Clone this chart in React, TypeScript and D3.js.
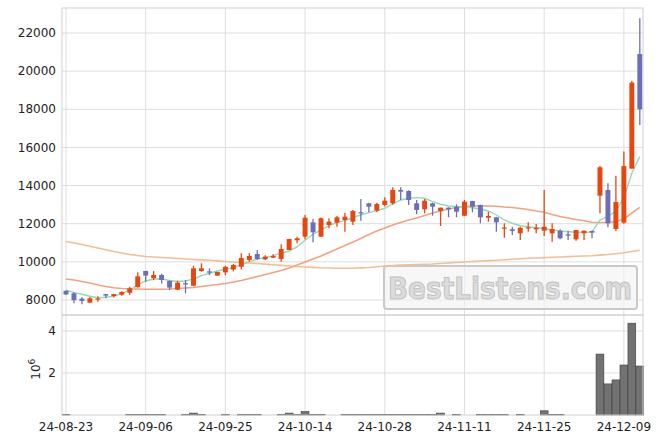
import React from "react";
import * as d3 from "d3";

const dates = [
  "24-08-23","24-08-26","24-08-27","24-08-28","24-08-29","24-08-30","24-09-02","24-09-03","24-09-04","24-09-05",
  "24-09-06","24-09-09","24-09-10","24-09-11","24-09-12","24-09-13","24-09-19","24-09-20","24-09-23","24-09-24",
  "24-09-25","24-09-26","24-09-27","24-09-30","24-10-02","24-10-04","24-10-07","24-10-08","24-10-10","24-10-11",
  "24-10-14","24-10-15","24-10-16","24-10-17","24-10-18","24-10-21","24-10-22","24-10-23","24-10-24","24-10-25",
  "24-10-28","24-10-29","24-10-30","24-10-31","24-11-01","24-11-04","24-11-05","24-11-06","24-11-07","24-11-08",
  "24-11-11","24-11-12","24-11-13","24-11-14","24-11-15","24-11-18","24-11-19","24-11-20","24-11-21","24-11-22",
  "24-11-25","24-11-26","24-11-27","24-11-28","24-11-29","24-12-02","24-12-03","24-12-04","24-12-05","24-12-06",
  "24-12-09","24-12-10","24-12-11",
];

const opens = [
  8480, 8350, 8070, 7860, 8040, 8310, 8210, 8280, 8380, 8670,
  9520, 9140, 9310, 9000, 8540, 8880, 8750, 9520, 9500, 9280,
  9450, 9600, 9746, 10100, 10412, 10133, 10220, 10150, 10622, 11130,
  11320, 12072, 11320, 11933, 12055, 12195, 12107, 12600, 13069, 12684,
  12983, 13069, 13768, 13715, 13069, 12754, 13069, 12667, 12842, 12893,
  12420, 13190, 12983, 12316, 12336, 11760, 11706, 11497, 11760, 11706,
  11635, 11497, 11635, 11440, 11183, 11497, 11618, 13469, 13768, 11723,
  12055, 14889, 20899,
];
const highs = [
  8500, 8400, 8140, 8160, 8190, 8320, 8320, 8460, 8700, 9450,
  9530, 9520, 9380, 9020, 9010, 9050, 9800, 9920, 9660, 9480,
  9790, 9880, 10450, 10450, 10622, 10350, 10400, 10920, 11200, 11320,
  12457, 12250, 12330, 12280, 12405, 12580, 12720, 13296, 13100, 13104,
  13384, 13907, 13907, 13750, 13244, 13296, 13100, 12842, 12860, 13019,
  13244, 13200, 13000, 12630, 12360, 12020, 11844, 11844, 12072, 11985,
  13768, 12022, 11706, 11635, 11670, 11650, 11650, 15020, 14117, 14520,
  15780, 19480, 22770,
];
const lows = [
  8270, 7830, 7780, 7850, 7910, 8090, 8130, 8220, 8260, 8650,
  8960, 9030, 8860, 8520, 8520, 8350, 8720, 9480, 9310, 9270,
  9300, 9500, 9600, 10000, 10100, 10100, 10200, 10000, 10620, 10970,
  11183, 11025, 11300, 11760, 11843, 11580, 11933, 12160, 12595, 12597,
  12900, 13000, 13244, 12983, 12494, 12546, 12420, 11880, 12336, 12336,
  12400, 12597, 12022, 12106, 11580, 11266, 11409, 11146, 11580, 11497,
  11356, 11057, 11183, 11146, 11100, 11146, 11234, 12545, 11810, 11618,
  12000, 14889, 17176,
];
const closes = [
  8290, 7990, 7950, 8090, 8080, 8230, 8310, 8420, 8610, 9240,
  9280, 9310, 9050, 8650, 8910, 8830, 9660, 9660, 9480, 9470,
  9740, 9835, 10200, 10307, 10150, 10272, 10307, 10674, 11199, 11235,
  12316, 11548, 12284, 12107, 12336, 12370, 12667, 12580, 12893, 13034,
  13209, 13768, 13680, 13244, 12719, 13209, 12893, 12842, 12754, 12632,
  13157, 12893, 12336, 12405, 12072, 11800, 11620, 11790, 11810, 11790,
  11843, 11723, 11234, 11372, 11670, 11635, 11531, 14959, 12020, 13139,
  15020, 19396, 17998,
];
const volumes = [
  30000, 0, 0, 0, 0, 0, 0, 0, 30000, 30000,
  30000, 30000, 30000, 0, 0, 30000, 90000, 30000, 0, 0,
  30000, 0, 30000, 30000, 30000, 0, 0, 30000, 90000, 30000,
  160000, 30000, 30000, 0, 0, 30000, 30000, 30000, 30000, 30000,
  30000, 30000, 30000, 30000, 30000, 30000, 30000, 90000, 0, 30000,
  0, 0, 30000, 30000, 30000, 30000, 0, 30000, 0, 0,
  200000, 30000, 30000, 0, 0, 0, 0, 2900000, 1480000, 1670000,
  2380000, 4370000, 2330000,
];
const ma5 = [
  8524, 8383, 8299, 8194, 8121, 8142, 8194, 8330, 8524, 8787,
  8996, 9101, 9101, 9023, 8970, 8996, 9101, 9274, 9400, 9521,
  9610, 9694, 9835, 10008, 10150, 10218, 10323, 10449, 10570, 10779,
  11146, 11445, 11671, 11896, 12075, 12159, 12337, 12457, 12578, 12683,
  12809, 13034, 13244, 13333, 13365, 13333, 13155, 13019, 12929, 12893,
  12893, 12840, 12772, 12667, 12457, 12195, 12022, 11896, 11844, 11791,
  11749, 11671, 11618, 11582, 11550, 11550, 11566, 12195, 12379, 12667,
  13349, 14644, 15515,
];
const ma20 = [
  9101, 9049, 8970, 8891, 8787, 8708, 8645, 8603, 8577, 8577,
  8566, 8561, 8561, 8577, 8603, 8629, 8656, 8708, 8760, 8813,
  8865, 8944, 9023, 9127, 9232, 9337, 9442, 9547, 9678, 9835,
  9993, 10150, 10307, 10491, 10674, 10858, 11042, 11225, 11435, 11618,
  11776, 11933, 12064, 12195, 12300, 12431, 12562, 12667, 12772, 12851,
  12903, 12929, 12940, 12929, 12914, 12877, 12851, 12798, 12746, 12667,
  12599, 12484, 12379, 12300, 12221, 12153, 12075, 12064, 12064, 12117,
  12248, 12562, 12861,
];
const ma60 = [
  11068, 10989, 10910, 10816, 10727, 10632, 10543, 10465, 10386, 10334,
  10281, 10255, 10229, 10202, 10176, 10150, 10124, 10103, 10082, 10050,
  10019, 9993, 9967, 9940, 9914, 9883, 9846, 9814, 9783, 9757,
  9731, 9710, 9689, 9678, 9668, 9668, 9668, 9683, 9704, 9741,
  9783, 9809, 9835, 9846, 9862, 9877, 9888, 9914, 9940, 9967,
  9993, 10019, 10045, 10066, 10087, 10108, 10134, 10161, 10187, 10202,
  10223, 10239, 10255, 10276, 10292, 10307, 10323, 10355, 10386, 10428,
  10475, 10543, 10611,
];

const priceTicks = [8000, 10000, 12000, 14000, 16000, 18000, 20000, 22000];
const volumeTicks = [2, 4];
const labelEvery = 10;

const UP = "#e8460f";
const DOWN = "#6b6fb7";
const C_MA5 = "#8fdcb6";
const C_MA20 = "#f2a37e";
const C_MA60 = "#f2bf92";
const GRID = "#dedede";
const FONT = "DejaVu Sans";

export default function App() {
  const W = 663, H = 444;
  const left = 62, right = 643, top = 8, mid = 315, bottom = 415;
  const n = dates.length;
  const x = d3.scaleLinear().domain([-0.5, n - 0.6]).range([left, right]);
  const step = x(1) - x(0);
  const y = d3.scaleLinear().domain([7213, 23311]).range([mid, top]);
  const yv = d3.scaleLinear().domain([0, 4.76]).range([bottom, mid]);
  const idx = d3.range(n);
  const tickIdx = idx.filter((i) => i % labelEvery === 0);

  const line = (arr: number[]) =>
    d3.line<number>().x((_, i) => x(i)).y((d) => y(d)).curve(d3.curveLinear)(arr) || "";

  const bodyW = step * 0.62;
  const volW = step * 0.98;

  return (
    <svg width={W} height={H} style={{ position: "absolute", left: 0, top: 0, background: "#fff" }} fontFamily={FONT}>
      <rect x={0} y={0} width={W} height={H} fill="#fff" />
      {priceTicks.map((t) => (
        <line key={"pg" + t} x1={left} x2={right} y1={y(t)} y2={y(t)} stroke={GRID} strokeWidth={1} />
      ))}
      {volumeTicks.map((t) => (
        <line key={"vg" + t} x1={left} x2={right} y1={yv(t)} y2={yv(t)} stroke={GRID} strokeWidth={1} />
      ))}
      {tickIdx.map((i) => (
        <line key={"xg" + i} x1={x(i)} x2={x(i)} y1={top} y2={bottom} stroke={GRID} strokeWidth={1} />
      ))}

      <g>
        <rect x={384} y={266} width={253} height={43} rx={3} fill="#f4f4f4" fillOpacity={0.7} stroke="#c9c9c9" strokeWidth={2} />
        <text x={510} y={299} textAnchor="middle" fontFamily="'DejaVu Sans Condensed', 'DejaVu Sans'" fontStretch="condensed"
          fontWeight="bold" fontSize={31} textLength={244} lengthAdjust="spacingAndGlyphs"
          fill="#dcdcdc" stroke="#c2c2c2" strokeWidth={1}>BestListens.com</text>
      </g>

      <path d={line(ma60)} fill="none" stroke={C_MA60} strokeWidth={1.6} />
      <path d={line(ma20)} fill="none" stroke={C_MA20} strokeWidth={1.6} />
      <path d={line(ma5)} fill="none" stroke={C_MA5} strokeWidth={1.4} />

      {idx.map((i) => {
        const o = opens[i], c = closes[i], h = highs[i], l = lows[i];
        const col = c >= o ? UP : DOWN;
        const yt = y(Math.max(o, c));
        const yb = y(Math.min(o, c));
        return (
          <g key={"c" + i}>
            <line x1={x(i)} x2={x(i)} y1={y(h)} y2={y(l)} stroke={col} strokeWidth={1.3} />
            <rect x={x(i) - bodyW / 2} y={yt} width={bodyW} height={Math.max(yb - yt, 1.2)} fill={col} />
          </g>
        );
      })}

      {idx.filter((i) => volumes[i] > 0).map((i) => {
        const v = volumes[i] / 1e6;
        return (
          <rect key={"v" + i} x={x(i) - volW / 2} y={yv(v)} width={volW} height={bottom - yv(v)}
            fill="#727272" stroke="#3c3c3c" strokeWidth={0.6} />
        );
      })}

      <rect x={left} y={top} width={right - left} height={mid - top} fill="none" stroke="#d0d0d0" strokeWidth={1} />
      <rect x={left} y={mid} width={right - left} height={bottom - mid} fill="none" stroke="#d0d0d0" strokeWidth={1} />

      {priceTicks.map((t) => (
        <text key={"pl" + t} x={left - 6} y={y(t)} dy="0.35em" textAnchor="end" fontSize={12} fill="#222">{t}</text>
      ))}
      {volumeTicks.map((t) => (
        <text key={"vl" + t} x={left - 6} y={yv(t)} dy="0.35em" textAnchor="end" fontSize={12} fill="#222">{t}</text>
      ))}
      <text transform={`translate(40,${(yv(2) + yv(1.6)) / 2 - 8}) rotate(-90)`} textAnchor="middle" fontSize={12} fill="#222">
        10<tspan dy={-5} fontSize={9}>6</tspan>
      </text>

      {tickIdx.map((i) => (
        <text key={"xl" + i} x={x(i)} y={bottom + 12} dy="0.35em" textAnchor="middle" fontSize={12} fill="#222">{dates[i]}</text>
      ))}
    </svg>
  );
}
